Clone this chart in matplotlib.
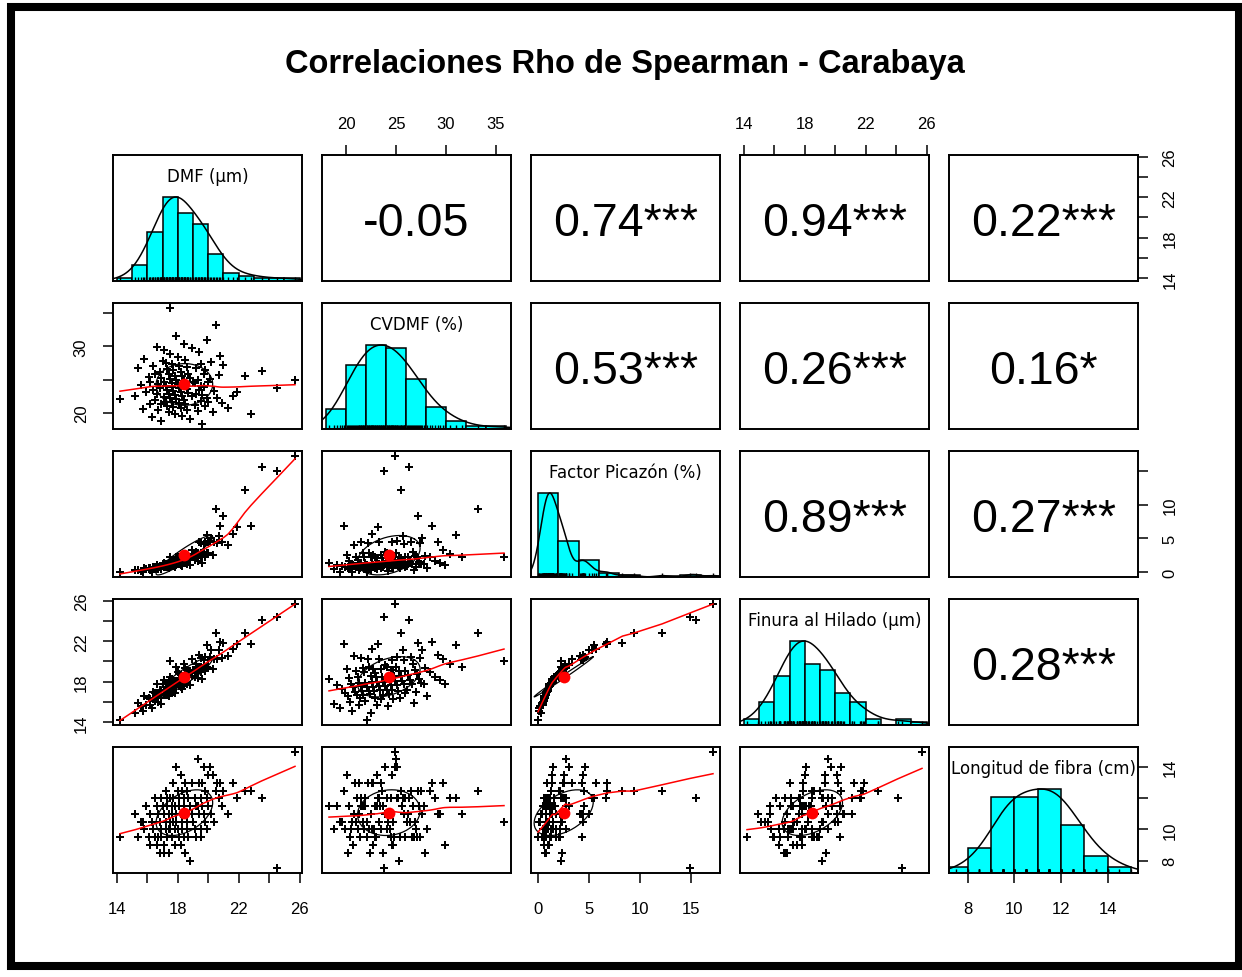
import numpy as np
import pandas as pd
import matplotlib
matplotlib.use("Agg")
import matplotlib.pyplot as plt
from matplotlib.patches import Rectangle

plt.rcParams['font.family'] = ['Liberation Sans', 'DejaVu Sans']

# valores por muestra, estimados a partir del grafico
dmf = [14.2, 15.2, 15.4, 15.6, 15.7, 15.8, 15.9, 16.1, 16.2, 16.2,
       16.3, 16.4, 16.4, 16.5, 16.5, 16.6, 16.6, 16.7, 16.7, 16.8,
       16.8, 16.9, 16.9, 16.9, 17.0, 17.1, 17.1, 17.1, 17.2, 17.2,
       17.2, 17.3, 17.3, 17.3, 17.4, 17.4, 17.4, 17.5, 17.5, 17.5,
       17.5, 17.6, 17.6, 17.6, 17.6, 17.7, 17.7, 17.7, 17.8, 17.8,
       17.8, 17.9, 17.9, 17.9, 18.0, 18.0, 18.1, 18.1, 18.1, 18.2,
       18.2, 18.2, 18.3, 18.3, 18.3, 18.4, 18.4, 18.4, 18.5, 18.5,
       18.5, 18.6, 18.6, 18.6, 18.7, 18.7, 18.8, 18.8, 18.9, 18.9,
       19.0, 19.1, 19.1, 19.2, 19.2, 19.3, 19.3, 19.4, 19.4, 19.5,
       19.5, 19.5, 19.6, 19.6, 19.7, 19.7, 19.8, 19.8, 19.9, 19.9,
       20.0, 20.0, 20.1, 20.2, 20.3, 20.4, 20.5, 20.6, 20.7, 20.8,
       20.9, 21.0, 21.3, 21.6, 21.9, 22.4, 22.8, 23.5, 24.5, 25.7]

cvdmf = [22.1, 22.5, 26.8, 24.2, 20.6, 28.1, 23.1, 25.4, 21.3, 24.7,
         19.4, 27.0, 23.5, 21.9, 25.9, 22.9, 29.9, 24.3, 20.4, 26.1,
         23.7, 18.8, 25.2, 21.4, 27.8, 22.4, 29.4, 24.6, 21.7, 27.5,
         24.1, 21.1, 26.6, 23.4, 20.2, 25.8, 22.8, 35.8, 25.1, 22.3,
         28.9, 24.5, 21.6, 27.3, 23.9, 20.9, 26.4, 23.3, 19.9, 25.6,
         22.7, 31.6, 24.9, 22.1, 28.4, 24.4, 21.5, 27.1, 23.7, 20.7,
         26.2, 23.1, 19.6, 25.5, 22.6, 30.4, 24.8, 21.9, 27.9, 24.3,
         21.3, 26.9, 23.6, 20.5, 25.9, 23.0, 19.1, 25.3, 22.5, 29.7,
         24.7, 24.5, 21.2, 26.7, 22.9, 20.3, 25.0, 29.2, 23.5, 21.8,
         24.1, 27.4, 18.3, 22.7, 25.8, 23.9, 21.0, 26.5, 22.3, 31.0,
         24.6, 21.7, 25.1, 27.6, 20.1, 23.3, 33.2, 22.2, 25.7, 28.6,
         21.5, 27.2, 20.8, 22.6, 23.2, 25.5, 19.8, 26.3, 23.8, 24.9]

picazon = [0.0, 0.3, 0.4, 0.2, 0.1, 0.6, 0.5, 0.6, 0.4, 0.6,
           0.1, 0.8, 0.6, 0.6, 0.8, 0.7, 1.1, 0.8, 0.5, 1.0,
           0.8, 0.5, 1.0, 0.7, 1.2, 0.8, 1.4, 1.0, 0.8, 1.3,
           1.0, 0.8, 1.3, 1.0, 0.7, 1.3, 1.0, 2.3, 1.2, 1.0,
           1.6, 1.2, 0.9, 1.5, 1.2, 0.9, 1.5, 1.2, 0.8, 1.5,
           1.1, 2.3, 1.5, 1.1, 2.2, 1.5, 1.2, 2.2, 1.5, 1.1,
           2.2, 1.4, 1.0, 2.1, 1.4, 2.7, 1.8, 1.4, 2.4, 1.8,
           1.4, 2.4, 2.1, 1.3, 2.3, 2.1, 1.1, 2.3, 2.2, 3.3,
           2.4, 2.5, 1.8, 3.0, 2.2, 1.7, 2.8, 4.4, 2.5, 2.2,
           2.8, 4.3, 1.4, 2.6, 4.2, 3.0, 2.3, 4.5, 2.8, 5.5,
           4.4, 2.8, 4.6, 5.0, 2.6, 4.4, 9.4, 4.3, 5.3, 6.8,
           4.5, 8.3, 4.1, 5.7, 6.7, 12.2, 6.8, 15.5, 14.9, 17.2]

finura = [14.2, 14.9, 15.9, 15.6, 15.1, 16.6, 15.7, 16.4, 15.7, 16.3,
          15.4, 17.0, 16.3, 16.1, 16.9, 16.4, 17.8, 16.8, 16.0, 17.2,
          16.7, 15.8, 17.1, 16.4, 17.8, 16.8, 18.2, 17.2, 16.7, 17.9,
          17.2, 16.7, 17.8, 17.2, 16.6, 17.8, 17.1, 20.0, 17.7, 17.1,
          18.5, 17.7, 17.1, 18.3, 17.6, 17.0, 18.2, 17.6, 16.9, 18.1,
          17.5, 19.5, 18.1, 17.5, 19.0, 18.1, 17.6, 18.8, 18.0, 17.5,
          18.7, 18.0, 17.3, 18.6, 18.0, 19.8, 18.6, 17.9, 19.4, 18.6,
          17.9, 19.2, 18.5, 17.8, 19.1, 18.5, 17.7, 19.1, 18.6, 20.2,
          19.2, 19.2, 18.5, 19.8, 18.9, 18.4, 19.5, 20.6, 19.3, 19.0,
          19.5, 20.3, 18.3, 19.3, 20.1, 19.7, 19.1, 20.4, 19.5, 21.6,
          20.1, 19.4, 20.4, 21.1, 19.3, 20.2, 22.8, 20.2, 21.1, 21.9,
          20.3, 21.8, 20.5, 21.2, 21.7, 22.8, 21.7, 24.1, 24.4, 25.7]

longitud = [9.5, 11.0, 9.5, 10.5, 10.5, 10.0, 11.5, 9.5, 11.0, 9.0,
            10.5, 10.0, 10.0, 12.0, 9.5, 11.5, 9.0, 11.0, 9.5, 10.5,
            8.5, 10.0, 12.0, 9.5, 11.5, 8.5, 11.0, 9.0, 10.5, 12.5,
            10.0, 12.0, 9.5, 11.5, 8.5, 11.0, 10.0, 10.5, 12.0, 10.0,
            12.0, 9.5, 11.5, 11.5, 11.0, 13.0, 10.5, 12.0, 10.0, 11.5,
            9.0, 11.0, 14.0, 10.5, 12.5, 10.0, 12.0, 9.5, 11.5, 9.0,
            11.0, 13.5, 10.5, 12.5, 10.0, 12.0, 9.5, 11.5, 8.5, 11.0,
            13.0, 10.5, 12.5, 10.0, 12.0, 9.5, 11.5, 8.0, 11.0, 13.0,
            10.5, 12.0, 10.0, 11.5, 9.5, 11.5, 14.5, 11.0, 13.0, 10.0,
            12.0, 9.5, 11.5, 13.0, 11.0, 14.0, 10.5, 12.5, 10.0, 12.0,
            13.5, 11.5, 14.0, 11.0, 13.5, 10.5, 12.5, 13.0, 12.0, 13.0,
            11.5, 12.5, 11.0, 13.0, 12.0, 12.5, 12.5, 12.0, 7.5, 15.0]

etiquetas = ["DMF (µm)", "CVDMF (%)", "Factor Picazón (%)",
             "Finura al Hilado (µm)", "Longitud de fibra (cm)"]
rho_txt = ["-0.05", "0.74***", "0.94***", "0.22***",
           "0.53***", "0.26***", "0.16*",
           "0.89***", "0.27***",
           "0.28***"]
titulo = "Correlaciones Rho de Spearman - Carabaya"

variables = [np.array(v, float) for v in (dmf, cvdmf, picazon, finura, longitud)]
cortes = [np.arange(14, 27, 1), np.arange(18, 38, 2), np.arange(0, 20, 2),
          np.arange(14, 27, 1), np.arange(7, 16, 1)]


def limites(v):
    d = v.max() - v.min()
    return v.min() - 0.04 * d, v.max() + 0.04 * d


def conteo(x, breaks):
    # intervalos cerrados a la derecha, como hist() de R
    idx = np.searchsorted(breaks, x, side="left") - 1
    idx = np.clip(idx, 0, len(breaks) - 2)
    return np.bincount(idx, minlength=len(breaks) - 1)


def densidad(x):
    n = len(x)
    iqr = np.subtract(*np.percentile(x, [75, 25]))
    bw = 1.06 * min(np.std(x, ddof=1), iqr / 1.34) * n ** (-0.2) * 1.2
    g = np.linspace(x.min() - 3 * bw, x.max() + 3 * bw, 512)
    d = np.exp(-0.5 * ((g[:, None] - x[None, :]) / bw) ** 2).sum(axis=1)
    return g, d / d.max()


def lowess(x, y, f=2 / 3, iters=3):
    o = np.argsort(x, kind="mergesort")
    x, y = x[o], y[o]
    n = len(x)
    r = int(np.ceil(f * n))
    dist = np.abs(x[:, None] - x[None, :])
    h = np.sort(dist, axis=1)[:, r - 1]
    h[h <= 0] = 1e-9
    w = (1 - np.clip(dist / h[:, None], 0, 1) ** 3) ** 3
    rob = np.ones(n)
    fit = np.zeros(n)
    for _ in range(iters + 1):
        for i in range(n):
            wi = w[i] * rob
            sw = wi.sum()
            xm = (wi * x).sum() / sw
            ym = (wi * y).sum() / sw
            sxx = (wi * (x - xm) ** 2).sum()
            b = (wi * (x - xm) * (y - ym)).sum() / sxx if sxx > 1e-12 else 0.0
            fit[i] = ym + b * (x[i] - xm)
        res = y - fit
        s = np.median(np.abs(res))
        if s <= 0:
            break
        u = np.clip(res / (6 * s), -1, 1)
        rob = (1 - u ** 2) ** 2
    return x, fit


def elipse(x, y):
    r = pd.Series(x).rank().corr(pd.Series(y).rank())
    t = np.linspace(0, 2 * np.pi, 52)
    th = np.sign(r) / np.sqrt(2) if abs(r) > 0 else 1 / np.sqrt(2)
    a = np.cos(t) * np.sqrt(1 + r)
    b = np.sin(t) * np.sqrt(1 - r)
    ex = (a * th - b * th) * x.std(ddof=1) + x.mean()
    ey = (a * th + b * th) * y.std(ddof=1) + y.mean()
    return ex, ey


lims = [limites(v) for v in variables]

W, H = 1242, 978
fig = plt.figure(figsize=(W / 100, H / 100), dpi=100)

X0, DX, PW = 113, 209, 189
Y0, DY, PH = 156, 148, 126

t_dmf = [14, 16, 18, 20, 22, 24, 26]
l_dmf = ["14", "", "18", "", "22", "", "26"]
ejes = {
    (0, 1): [("top", [20, 25, 30, 35], ["20", "25", "30", "35"])],
    (0, 3): [("top", t_dmf, l_dmf)],
    (0, 4): [("right", t_dmf, l_dmf)],
    (1, 0): [("left", [20, 25, 30, 35], ["20", "", "30", ""])],
    (2, 4): [("right", [0, 5, 10, 15], ["0", "5", "10", ""])],
    (3, 0): [("left", t_dmf, l_dmf)],
    (4, 0): [("bottom", t_dmf, l_dmf)],
    (4, 2): [("bottom", [0, 5, 10, 15], ["0", "5", "10", "15"])],
    (4, 4): [("bottom", [8, 10, 12, 14], ["8", "10", "12", "14"]),
             ("right", [8, 10, 12, 14], ["8", "10", "", "14"])],
}

k = 0
for r in range(5):
    for c in range(5):
        left = X0 + DX * c
        top = Y0 + DY * r
        ax = fig.add_axes([left / W, 1 - (top + PH) / H, PW / W, PH / H])
        for s in ax.spines.values():
            s.set_linewidth(1.4)
        ax.set_xticks([])
        ax.set_yticks([])
        ax.set_xlim(lims[c])
        if r == c:
            x = variables[r]
            br = cortes[r]
            cnt = conteo(x, br)
            ax.bar(br[:-1], cnt / cnt.max(), width=np.diff(br), align="edge",
                   color="#00ffff", edgecolor="black", linewidth=1.1, zorder=2)
            g, d = densidad(x)
            ax.plot(g, d, color="black", lw=1.1, zorder=3)
            ax.vlines(x, 0, 0.05, color="black", lw=1.0, zorder=4)
            ax.set_ylim(0, 1.5)
            ax.text(0.5, 0.83, etiquetas[r], transform=ax.transAxes, ha="center",
                    va="center", fontsize=12, family=["DejaVu Sans"], zorder=5)
        elif r > c:
            x = variables[c]
            y = variables[r]
            ax.set_ylim(lims[r])
            ax.plot(x, y, "P", color="black", ms=5.5, mew=0, zorder=2)
            lx, ly = lowess(x, y)
            ax.plot(lx, ly, color="red", lw=1.1, zorder=3)
            ex, ey = elipse(x, y)
            ax.plot(ex, ey, color="black", lw=0.9, zorder=2)
            ax.plot(x.mean(), y.mean(), "o", color="red", ms=8.5, mew=0, zorder=4)
        else:
            ax.set_ylim(lims[r])
            ax.text(0.5, 0.46, rho_txt[k], transform=ax.transAxes, ha="center",
                    va="center", fontsize=33.5)
            k += 1

        for lado, ticks, labels in ejes.get((r, c), []):
            if lado in ("top", "bottom"):
                ax.set_xticks(ticks)
                ax.set_xticklabels(labels, fontsize=12)
                ax.tick_params(axis="x", top=(lado == "top"), bottom=(lado == "bottom"),
                               labeltop=(lado == "top"), labelbottom=(lado == "bottom"),
                               direction="out", length=7.5, width=1.1,
                               pad=(10 if lado == "top" else 13))
            else:
                tgt = ax
                if r == c:
                    tgt = ax.twinx()
                    tgt.set_ylim(lims[r])
                    for s in tgt.spines.values():
                        s.set_visible(False)
                tgt.set_yticks(ticks)
                tgt.set_yticklabels(labels, fontsize=12, rotation=90, va="center")
                tgt.tick_params(axis="y", left=(lado == "left"), right=(lado == "right"),
                                labelleft=(lado == "left"), labelright=(lado == "right"),
                                direction="out", length=7.5, width=1.1, pad=10)

fig.text(625 / W, 1 - 64 / H, titulo, ha="center", va="center",
         fontsize=23.5, fontweight="bold")

fig.add_artist(Rectangle((11 / W, 1 - 967 / H), (1239 - 11) / W, (967 - 8) / H,
                         transform=fig.transFigure, fill=False, lw=5.8, ec="black"))

fig.savefig("out.png", dpi=100)
